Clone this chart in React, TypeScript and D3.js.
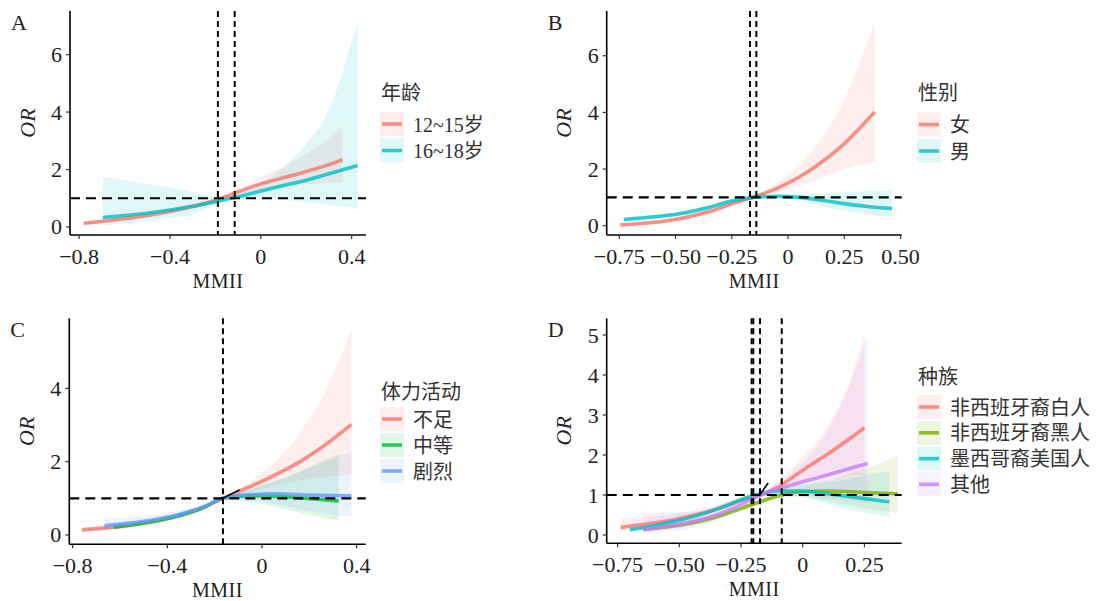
import React from "react"
import * as d3 from "d3"

type Row = [number, number, number, number] // x, OR, lower, upper

// ---- panel A: 年龄 ----
const ageYoung: Row[] = [
  [-0.78, 0.13, 0.09, 0.19], [-0.7, 0.19, 0.14, 0.26], [-0.6, 0.29, 0.22, 0.38],
  [-0.5, 0.4, 0.33, 0.5], [-0.4, 0.54, 0.46, 0.64], [-0.3, 0.71, 0.63, 0.8],
  [-0.2, 0.93, 0.88, 0.98], [-0.1, 1.22, 1.12, 1.32], [0, 1.5, 1.3, 1.75],
  [0.1, 1.71, 1.4, 2.1], [0.2, 1.93, 1.48, 2.55], [0.3, 2.17, 1.53, 3.1],
  [0.36, 2.34, 1.55, 3.55],
]
const ageOld: Row[] = [
  [-0.695, 0.33, 0.06, 1.75], [-0.6, 0.4, 0.12, 1.62], [-0.5, 0.48, 0.2, 1.5],
  [-0.4, 0.59, 0.3, 1.38], [-0.3, 0.72, 0.45, 1.22], [-0.2, 0.88, 0.78, 1.05],
  [-0.1, 1.05, 0.98, 1.15], [0, 1.25, 1.0, 1.5], [0.1, 1.44, 0.94, 2.1],
  [0.2, 1.63, 0.86, 2.9], [0.3, 1.85, 0.77, 4.1], [0.426, 2.14, 0.64, 7.15],
]

// ---- panel B: 性别 ----
const sexFemale: Row[] = [
  [-0.745, 0.03, 0.01, 0.06], [-0.65, 0.08, 0.04, 0.13], [-0.55, 0.16, 0.1, 0.23],
  [-0.45, 0.3, 0.22, 0.38], [-0.35, 0.5, 0.4, 0.6], [-0.25, 0.77, 0.69, 0.85],
  [-0.15, 1.02, 0.98, 1.06], [-0.05, 1.32, 1.18, 1.5], [0.05, 1.72, 1.4, 2.15],
  [0.15, 2.25, 1.7, 3.1], [0.25, 2.9, 2.0, 4.45], [0.385, 4.02, 2.25, 7.2],
]
const sexMale: Row[] = [
  [-0.73, 0.22, 0.15, 0.3], [-0.65, 0.27, 0.2, 0.34], [-0.55, 0.35, 0.28, 0.42],
  [-0.45, 0.47, 0.4, 0.54], [-0.35, 0.65, 0.58, 0.72], [-0.25, 0.87, 0.81, 0.93],
  [-0.15, 1.0, 0.97, 1.03], [-0.05, 1.04, 0.98, 1.1], [0.05, 1.0, 0.88, 1.13],
  [0.15, 0.9, 0.7, 1.15], [0.25, 0.78, 0.52, 1.18], [0.35, 0.68, 0.4, 1.22],
  [0.462, 0.61, 0.31, 1.26],
]

// ---- panel C: 体力活动 ----
const paLow: Row[] = [
  [-0.76, 0.14, 0.09, 0.2], [-0.65, 0.2, 0.14, 0.27], [-0.55, 0.28, 0.21, 0.35],
  [-0.45, 0.38, 0.31, 0.45], [-0.35, 0.53, 0.46, 0.6], [-0.25, 0.74, 0.68, 0.8],
  [-0.165, 1.0, 0.98, 1.02], [-0.05, 1.32, 1.18, 1.45], [0.05, 1.62, 1.35, 1.95],
  [0.15, 1.96, 1.48, 2.7], [0.25, 2.38, 1.57, 3.7], [0.378, 3.02, 1.64, 5.6],
]
const paMid: Row[] = [
  [-0.627, 0.21, 0.14, 0.3], [-0.55, 0.28, 0.2, 0.36], [-0.45, 0.38, 0.31, 0.45],
  [-0.35, 0.53, 0.46, 0.6], [-0.25, 0.74, 0.68, 0.8], [-0.165, 1.0, 0.98, 1.02],
  [-0.05, 1.07, 0.9, 1.25], [0.05, 1.06, 0.78, 1.45], [0.15, 1.02, 0.62, 1.7],
  [0.25, 0.97, 0.48, 2.0], [0.324, 0.93, 0.4, 2.2],
]
const paHigh: Row[] = [
  [-0.665, 0.25, 0.15, 0.44], [-0.55, 0.33, 0.22, 0.48], [-0.45, 0.42, 0.32, 0.55],
  [-0.35, 0.56, 0.47, 0.66], [-0.25, 0.76, 0.69, 0.83], [-0.165, 1.0, 0.97, 1.03],
  [-0.05, 1.1, 0.96, 1.25], [0.05, 1.12, 0.86, 1.45], [0.15, 1.1, 0.72, 1.7],
  [0.25, 1.08, 0.6, 1.95], [0.378, 1.07, 0.5, 2.28],
]

// ---- panel D: 种族 ----
const raceWhite: Row[] = [
  [-0.737, 0.19, 0.1, 0.42], [-0.65, 0.26, 0.15, 0.45], [-0.55, 0.35, 0.22, 0.5],
  [-0.45, 0.48, 0.36, 0.6], [-0.35, 0.64, 0.54, 0.75], [-0.25, 0.86, 0.79, 0.93],
  [-0.17, 1.0, 0.97, 1.03], [-0.1, 1.2, 1.1, 1.35], [0, 1.62, 1.35, 1.95],
  [0.1, 2.02, 1.45, 2.7], [0.2, 2.45, 1.5, 4.0], [0.25, 2.68, 1.5, 5.1],
]
const raceBlack: Row[] = [
  [-0.646, 0.14, 0.08, 0.22], [-0.55, 0.2, 0.14, 0.28], [-0.45, 0.3, 0.22, 0.38],
  [-0.35, 0.45, 0.38, 0.52], [-0.25, 0.66, 0.6, 0.72], [-0.15, 0.88, 0.82, 0.94],
  [-0.085, 1.0, 0.95, 1.05], [0, 1.08, 0.95, 1.22], [0.1, 1.1, 0.85, 1.38],
  [0.2, 1.08, 0.72, 1.55], [0.3, 1.05, 0.62, 1.75], [0.385, 1.03, 0.54, 2.0],
]
const raceMexican: Row[] = [
  [-0.7, 0.13, 0.08, 0.2], [-0.6, 0.24, 0.18, 0.3], [-0.5, 0.37, 0.3, 0.45],
  [-0.4, 0.54, 0.47, 0.62], [-0.3, 0.76, 0.69, 0.84], [-0.2, 0.99, 0.95, 1.04],
  [-0.1, 1.1, 1.0, 1.2], [0, 1.1, 0.95, 1.26], [0.1, 1.03, 0.78, 1.32],
  [0.2, 0.95, 0.62, 1.42], [0.3, 0.87, 0.5, 1.55], [0.351, 0.83, 0.45, 1.6],
]
const raceOther: Row[] = [
  [-0.646, 0.14, 0.04, 0.55], [-0.55, 0.22, 0.08, 0.55], [-0.45, 0.33, 0.17, 0.58],
  [-0.35, 0.5, 0.36, 0.65], [-0.25, 0.76, 0.7, 0.84], [-0.173, 1.0, 0.97, 1.03],
  [-0.1, 1.15, 1.03, 1.3], [0, 1.33, 1.0, 1.8], [0.1, 1.5, 0.92, 2.6],
  [0.2, 1.68, 0.85, 3.9], [0.263, 1.79, 0.8, 5.0],
]

// knots / reference lines
const knotsA = [-0.189, -0.115]
const knotsB = [-0.169, -0.141]
const knotsC = [-0.165]
const knotsD = [-0.207, -0.2, -0.173, -0.085]
// small black annotation strokes seen near the crossing point
const markC: [number, number][] = [[-0.165, 1.0], [-0.095, 1.23]]
const markD: [number, number][] = [[-0.14, 1.3], [-0.172, 1.02]]

const ticksX4 = [-0.8, -0.4, 0, 0.4]
const ticksX6 = [-0.75, -0.5, -0.25, 0, 0.25, 0.5]

const hue2 = ["#F8766D", "#00BFC4"]
const hue3 = ["#F8766D", "#00BA38", "#619CFF"]
const hue4 = ["#F8766D", "#7CAE00", "#00BFC4", "#C77CFF"]

const FONT = "'Liberation Serif', 'Noto Sans CJK SC', serif"
const TXT = "#222"

const fmtTick = (d: number, digits: number) =>
  d === 0 ? "0" : (d < 0 ? "\u2212" : "") + Math.abs(d).toFixed(digits)

type PanelProps = {
  tag: string
  box: { left: number; right: number; top: number; bottom: number }
  xDomain: [number, number]
  yDomain: [number, number]
  xTicks: number[]
  digits: number
  yTicks: number[]
  series: Row[][]
  colors: string[]
  knots: number[]
  mark?: [number, number][]
  legendTitle: string
  legendLabels: string[]
  legend: { x: number; titleY: number; keyY: number; step: number }
}

const Panel = (p: PanelProps) => {
  const { left, right, top, bottom } = p.box
  const xs = d3.scaleLinear().domain(p.xDomain).range([left, right])
  const ys = d3.scaleLinear().domain(p.yDomain).range([bottom, top])
  const line = d3.line<Row>().x(d => xs(d[0])).y(d => ys(d[1])).curve(d3.curveMonotoneX)
  const area = d3.area<Row>().x(d => xs(d[0])).y0(d => ys(d[2])).y1(d => ys(d[3])).curve(d3.curveMonotoneX)
  const midY = (top + bottom) / 2

  return (
    <g fontFamily={FONT} fill={TXT}>
      {/* ribbons */}
      {p.series.map((s, i) => (
        <path key={"r" + i} d={area(s) ?? ""} fill={p.colors[i]} fillOpacity={0.12} />
      ))}
      {/* lines */}
      {p.series.map((s, i) => (
        <path key={"l" + i} d={line(s) ?? ""} fill="none" stroke={p.colors[i]}
          strokeOpacity={0.8} strokeWidth={3.6} />
      ))}
      {/* reference lines */}
      <line x1={left} x2={right} y1={ys(1)} y2={ys(1)} stroke="#000" strokeWidth={2.2} strokeDasharray="10,6" />
      {p.knots.map((k, i) => (
        <line key={"k" + i} x1={xs(k)} x2={xs(k)} y1={top} y2={bottom} stroke="#000"
          strokeWidth={2} strokeDasharray="6,4" />
      ))}
      {p.mark && (
        <path d={d3.line()(p.mark.map(d => [xs(d[0]), ys(d[1])] as [number, number])) ?? ""}
          stroke="#000" strokeWidth={1.6} fill="none" />
      )}
      {/* axes */}
      <line x1={left} x2={left} y1={top} y2={bottom} stroke="#000" strokeWidth={1.6} />
      <line x1={left} x2={right} y1={bottom} y2={bottom} stroke="#000" strokeWidth={1.6} />
      {p.yTicks.map(t => (
        <g key={"y" + t}>
          <line x1={left - 4} x2={left} y1={ys(t)} y2={ys(t)} stroke="#333" strokeWidth={1.2} />
          <text x={left - 8} y={ys(t)} textAnchor="end" dominantBaseline="central" fontSize={22}>{t}</text>
        </g>
      ))}
      {p.xTicks.map(t => (
        <g key={"x" + t}>
          <line x1={xs(t)} x2={xs(t)} y1={bottom} y2={bottom + 4} stroke="#333" strokeWidth={1.2} />
          <text x={xs(t)} y={bottom + 21} textAnchor="middle" dominantBaseline="central" fontSize={22}>
            {fmtTick(t, p.digits)}
          </text>
        </g>
      ))}
      <text x={(left + right) / 2} y={bottom + 46} textAnchor="middle" dominantBaseline="central"
        fontSize={20} letterSpacing={0.5}>MMII</text>
      <text transform={`translate(${left - 43},${midY}) rotate(-90)`} textAnchor="middle"
        dominantBaseline="central" fontSize={22} fontStyle="italic">OR</text>
      <text x={left - 59} y={top + 11} dominantBaseline="central" fontSize={22}>{p.tag}</text>
      {/* legend */}
      <text x={p.legend.x + 1} y={p.legend.titleY} dominantBaseline="central" fontSize={20} fill="#333">{p.legendTitle}</text>
      {p.legendLabels.map((lab, i) => {
        const y0 = p.legend.keyY + i * p.legend.step
        return (
          <g key={"g" + i}>
            <rect x={p.legend.x} y={y0} width={24} height={24} fill={p.colors[i]} fillOpacity={0.12} />
            <line x1={p.legend.x + 2} x2={p.legend.x + 22} y1={y0 + 12} y2={y0 + 12}
              stroke={p.colors[i]} strokeOpacity={0.8} strokeWidth={3.6} />
            <text x={p.legend.x + 33} y={y0 + 12.5} dominantBaseline="central" fontSize={20} fill="#333">{lab}</text>
          </g>
        )
      })}
    </g>
  )
}

const App = () => (
  <svg width={1108} height={601} style={{ position: "absolute", left: 0, top: 0, background: "#fff" }}>
    <Panel tag="A" box={{ left: 70, right: 366, top: 11, bottom: 235 }}
      xDomain={[-0.84, 0.463]} yDomain={[-0.28, 7.52]} xTicks={ticksX4} digits={1} yTicks={[0, 2, 4, 6]}
      series={[ageYoung, ageOld]} colors={hue2} knots={knotsA}
      legendTitle="年龄" legendLabels={["12~15岁", "16~18岁"]}
      legend={{ x: 380, titleY: 93, keyY: 112, step: 26.5 }} />
    <Panel tag="B" box={{ left: 606.7, right: 901.7, top: 11, bottom: 235 }}
      xDomain={[-0.806, 0.505]} yDomain={[-0.328, 7.58]} xTicks={ticksX6} digits={2} yTicks={[0, 2, 4, 6]}
      series={[sexFemale, sexMale]} colors={hue2} knots={knotsB}
      legendTitle="性别" legendLabels={["女", "男"]}
      legend={{ x: 917, titleY: 93, keyY: 112.5, step: 26.5 }} />
    <Panel tag="C" box={{ left: 69.3, right: 365.7, top: 318.3, bottom: 544.3 }}
      xDomain={[-0.814, 0.438]} yDomain={[-0.254, 5.91]} xTicks={ticksX4} digits={1} yTicks={[0, 2, 4]}
      series={[paLow, paMid, paHigh]} colors={hue3} knots={knotsC} mark={markC}
      legendTitle="体力活动" legendLabels={["不足", "中等", "剧烈"]}
      legend={{ x: 380, titleY: 392, keyY: 407, step: 26 }} />
    <Panel tag="D" box={{ left: 606.7, right: 901.7, top: 318.3, bottom: 543.3 }}
      xDomain={[-0.794, 0.401]} yDomain={[-0.2075, 5.4175]} xTicks={ticksX6.slice(0, 5)} digits={2}
      yTicks={[0, 1, 2, 3, 4, 5]}
      series={[raceWhite, raceBlack, raceMexican, raceOther]} colors={hue4} knots={knotsD} mark={markD}
      legendTitle="种族" legendLabels={["非西班牙裔白人", "非西班牙裔黑人", "墨西哥裔美国人", "其他"]}
      legend={{ x: 917, titleY: 377, keyY: 395, step: 25.8 }} />
  </svg>
)

export default App
